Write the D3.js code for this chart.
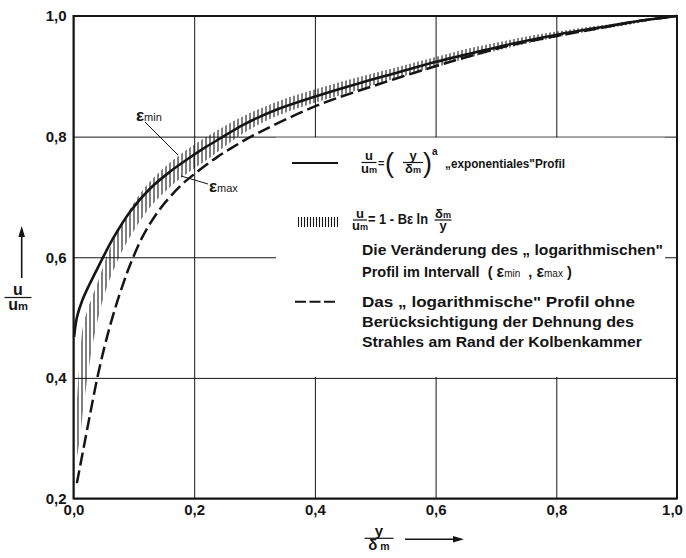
<!DOCTYPE html>
<html>
<head>
<meta charset="utf-8">
<script src="https://cdn.jsdelivr.net/npm/d3@7.9.0/dist/d3.min.js"></script>
<style>
  body { margin: 0; background: #fff; }
  svg { display: block; font-family: "Liberation Sans", Arial, sans-serif; font-weight: bold; }
</style>
</head>
<body>
<svg id="chart" width="686" height="558"></svg>
<script>
// u/um = (y/δm)^a  -- solid "exponential" profile
const expProfile = [[0.001,0.468],[0.0056,0.500],[0.014,0.527],[0.025,0.552],[0.036,0.574],[0.047,0.596],
  [0.066,0.632],[0.094,0.676],[0.127,0.714],[0.160,0.742],[0.188,0.762],[0.215,0.780],[0.243,0.797],
  [0.282,0.820],[0.337,0.845],[0.402,0.867],[0.475,0.889],[0.536,0.906],[0.601,0.924],[0.663,0.939],
  [0.718,0.952],[0.801,0.969],[0.884,0.983],[0.939,0.992],[1.0,1.0]];

// logarithmic profile without jet stretching (dashed)
const logProfile = [[0.0056,0.2255],[0.0166,0.283],[0.0277,0.341],[0.039,0.398],[0.050,0.446],[0.061,0.488],
  [0.072,0.525],[0.083,0.558],[0.094,0.588],[0.116,0.637],[0.144,0.681],[0.177,0.718],[0.199,0.737],
  [0.238,0.766],[0.260,0.780],[0.298,0.802],[0.402,0.851],[0.503,0.886],[0.601,0.917],[0.662,0.935],
  [0.718,0.950],[0.801,0.967],[0.884,0.982],[0.939,0.992],[1.0,1.0]];

// hatched band of the log profile, eps_min (upper) / eps_max (lower)
const bandX  = [0.0056,0.011,0.0156,0.023,0.030,0.043,0.056,0.077,0.100,0.127,0.171,0.226,0.282,0.337,0.402,
  0.470,0.536,0.600,0.663,0.720,0.773,0.840,0.900,0.950,1.0];
const epsMin = [0.360,0.438,0.485,0.512,0.532,0.566,0.604,0.650,0.690,0.726,0.766,0.803,0.834,0.858,0.879,
  0.898,0.915,0.932,0.948,0.960,0.970,0.980,0.988,0.995,1.0];
const epsMax = [0.267,0.302,0.345,0.400,0.445,0.508,0.552,0.603,0.644,0.683,0.726,0.765,0.806,0.834,0.857,
  0.877,0.897,0.915,0.933,0.947,0.959,0.972,0.982,0.991,1.0];

const xTicks = [0, 0.2, 0.4, 0.6, 0.8, 1.0];
const xTickLabels = ["0,0", "0,2", "0,4", "0,6", "0,8", "1,0"];
const yTicks = [0.2, 0.4, 0.6, 0.8, 1.0];
const yTickLabels = ["0,2", "0,4", "0,6", "0,8", "1,0"];

const ink = "#151515";
const svg = d3.select("#chart");
const x = d3.scaleLinear().domain([0, 1]).range([73.5, 677]);
const y = d3.scaleLinear().domain([0.2, 1]).range([498.5, 16]);
const plotW = x(1) - x(0), plotH = y(0.2) - y(1);

svg.append("rect").attr("width", 686).attr("height", 558).attr("fill", "#fff");

// hatch patterns
const defs = svg.append("defs");
function hatch(id, step) {
  const p = defs.append("pattern").attr("id", id).attr("patternUnits", "userSpaceOnUse")
    .attr("width", step).attr("height", 10);
  p.append("line").attr("x1", step / 2).attr("x2", step / 2).attr("y1", 0).attr("y2", 10)
    .attr("stroke", ink).attr("stroke-width", 1.1);
}
hatch("hatch", 4);
hatch("hatchKey", 3);

// grid + tick labels
const gx = svg.append("g").attr("transform", `translate(0,${y(0.2)})`)
  .call(d3.axisBottom(x).tickValues(xTicks).tickSize(-plotH).tickPadding(6)
    .tickFormat((d, i) => xTickLabels[i]));
const gy = svg.append("g").attr("transform", `translate(${x(0)},0)`)
  .call(d3.axisLeft(y).tickValues(yTicks).tickSize(-plotW).tickPadding(7)
    .tickFormat((d, i) => yTickLabels[i]));
[gx, gy].forEach(g => {
  g.select(".domain").remove();
  g.attr("font-family", null).attr("font-size", null);
  g.selectAll("line").attr("stroke", ink).attr("stroke-width", 1);
  g.selectAll("text").attr("fill", ink).attr("font-size", 15);
});
gx.selectAll("text").filter(d => d === 1).attr("dx", -5);

// white legend panel hides the grid
svg.append("rect").attr("x", 276).attr("y", y(0.8) + 1)
  .attr("width", 665 - 276).attr("height", y(0.4) - y(0.8) - 2).attr("fill", "#fff");

const curve = d3.curveCatmullRom.alpha(0.5);

// hatched band
const band = bandX.map((v, i) => ({ x: v, hi: epsMin[i], lo: epsMax[i] }));
svg.append("path").datum(band)
  .attr("fill", "url(#hatch)")
  .attr("d", d3.area().x(d => x(d.x)).y0(d => y(d.lo)).y1(d => y(d.hi)).curve(curve));

const line = d3.line().x(d => x(d[0])).y(d => y(d[1])).curve(curve);
svg.append("path").datum(logProfile).attr("fill", "none").attr("stroke", ink)
  .attr("stroke-width", 2.5).attr("stroke-dasharray", "13,5").attr("d", line);
svg.append("path").datum(expProfile).attr("fill", "none").attr("stroke", ink)
  .attr("stroke-width", 2.6).attr("d", line);

// frame
svg.append("rect").attr("x", x(0)).attr("y", y(1)).attr("width", plotW).attr("height", plotH)
  .attr("fill", "none").attr("stroke", ink).attr("stroke-width", 2);

// eps labels with leaders
function epsLabel(tx, ty, sub) {
  const t = svg.append("text").attr("x", tx).attr("y", ty).attr("fill", ink);
  t.append("tspan").attr("font-size", 17).text("ε");
  t.append("tspan").attr("font-size", 11).attr("font-weight", "normal").text(sub);
}
epsLabel(136, 120.5, "min");
epsLabel(209, 192, "max");
svg.append("line").attr("x1", 145).attr("y1", 122).attr("x2", 178).attr("y2", 155).attr("stroke", ink);
svg.append("line").attr("x1", 181).attr("y1", 176).attr("x2", 208).attr("y2", 184).attr("stroke", ink);

// fraction helper
function frac(cx, yLine, num, den, denSub, w, fs) {
  const g = svg.append("g").attr("fill", ink);
  const n = g.append("text").attr("x", cx).attr("y", yLine - 2.5).attr("text-anchor", "middle").attr("font-size", fs);
  n.append("tspan").text(num[0]);
  if (num[1]) n.append("tspan").attr("font-size", fs * 0.7).text(num[1]);
  const d = g.append("text").attr("x", cx).attr("y", yLine + fs * 0.78).attr("text-anchor", "middle").attr("font-size", fs);
  d.append("tspan").text(den);
  if (denSub) d.append("tspan").attr("font-size", fs * 0.7).text(denSub);
  g.append("line").attr("x1", cx - w / 2).attr("x2", cx + w / 2).attr("y1", yLine).attr("y2", yLine)
    .attr("stroke", ink).attr("stroke-width", 1.2);
}

// axis titles
frac(18, 297.5, ["u"], "u", "m", 27, 16);
svg.append("line").attr("x1", 21.7).attr("x2", 21.7).attr("y1", 278).attr("y2", 235).attr("stroke", ink).attr("stroke-width", 1.6);
svg.append("path").attr("d", "M21.7,226 L18.4,237 L25,237 Z").attr("fill", ink);

frac(379, 538.3, ["y"], "δ", " m", 29, 15);
svg.append("line").attr("x1", 405).attr("x2", 455).attr("y1", 539.3).attr("y2", 539.3).attr("stroke", ink).attr("stroke-width", 1.6);
svg.append("path").attr("d", "M464,539.3 L453,536 L453,542.6 Z").attr("fill", ink);

// legend
svg.append("line").attr("x1", 292).attr("x2", 338).attr("y1", 163).attr("y2", 163).attr("stroke", ink).attr("stroke-width", 2);
frac(369, 162.5, ["u"], "u", "m", 15, 13);
svg.append("text").attr("x", 378).attr("y", 167).attr("font-size", 11).attr("fill", ink).text("=");
svg.append("text").attr("x", 385).attr("y", 172).attr("font-size", 27).attr("font-weight", "normal").attr("fill", ink).text("(");
frac(413, 162.5, ["y"], "δ", "m", 20, 13);
svg.append("text").attr("x", 423).attr("y", 172).attr("font-size", 27).attr("font-weight", "normal").attr("fill", ink).text(")");
svg.append("text").attr("x", 432).attr("y", 155).attr("font-size", 10).attr("fill", ink).text("a");
svg.append("text").attr("x", 445).attr("y", 168).attr("font-size", 13.5).attr("fill", ink)
  .attr("textLength", 120).attr("lengthAdjust", "spacingAndGlyphs").text("„exponentiales\"Profil");

svg.append("rect").attr("x", 298).attr("y", 217).attr("width", 40).attr("height", 10).attr("fill", "url(#hatchKey)");
frac(360, 220, ["u"], "u", "m", 14, 13);
svg.append("text").attr("x", 368).attr("y", 224).attr("font-size", 14).attr("fill", ink)
  .attr("xml:space", "preserve").attr("textLength", 60).attr("lengthAdjust", "spacingAndGlyphs").text("= 1 - Bε ln");
frac(443, 220, ["δ", "m"], "y", null, 17, 13);

const legendLines = [
  ["Die Veränderung des „ logarithmischen\"", 255, 301],
  ["Das „ logarithmische\" Profil ohne", 306.7, 273],
  ["Berücksichtigung der Dehnung des", 327.3, 272],
  ["Strahles am Rand der Kolbenkammer", 347.3, 280]
];
legendLines.forEach(([txt, by, w]) => {
  svg.append("text").attr("x", 362).attr("y", by).attr("font-size", 14.5).attr("fill", ink)
    .attr("textLength", w).attr("lengthAdjust", "spacingAndGlyphs").text(txt);
});
const iv = svg.append("text").attr("x", 362).attr("y", 276.7).attr("font-size", 14.5).attr("fill", ink)
  .attr("xml:space", "preserve");
iv.append("tspan").text("Profil im Intervall  ( ");
iv.append("tspan").attr("font-size", 16).text("ε");
iv.append("tspan").attr("font-size", 10).attr("font-weight", "normal").text("min");
iv.append("tspan").text("  , ");
iv.append("tspan").attr("font-size", 16).text("ε");
iv.append("tspan").attr("font-size", 10).attr("font-weight", "normal").text("max");
iv.append("tspan").text(" )");

svg.append("line").attr("x1", 295).attr("x2", 335).attr("y1", 301.7).attr("y2", 301.7)
  .attr("stroke", ink).attr("stroke-width", 2).attr("stroke-dasharray", "11,3.5");
</script>
</body>
</html>
